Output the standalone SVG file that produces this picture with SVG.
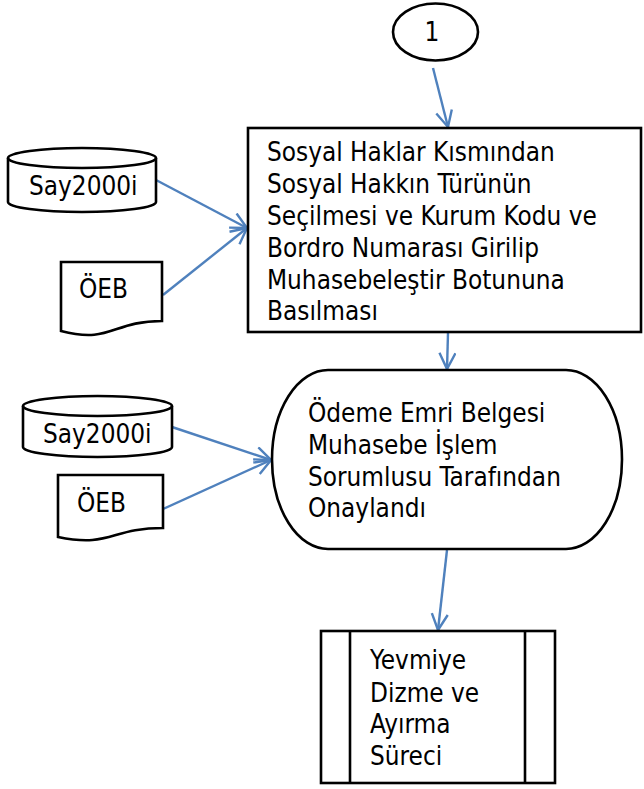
<svg xmlns="http://www.w3.org/2000/svg" width="644" height="789" viewBox="0 0 644 789">
<style>
.shape{fill:#fff;stroke:#000;stroke-width:2.6}
.line{fill:none;stroke:#000;stroke-width:2.6}
.t{font-family:"DejaVu Sans Condensed","DejaVu Sans",sans-serif;font-stretch:condensed;font-size:25.9px;fill:#000}
.conn{fill:none;stroke:#4F81BD;stroke-width:2.4}
</style>
<defs>
<marker id="arr" markerUnits="userSpaceOnUse" markerWidth="22" markerHeight="22" refX="17" refY="9" orient="auto">
<path d="M1,1 L17,9 L1,17" fill="none" stroke="#4F81BD" stroke-width="2.4"/>
</marker>
</defs>
<rect width="644" height="789" fill="#fff"/>
<g id="connectors">
<line class="conn" x1="433" y1="68" x2="448" y2="127" marker-end="url(#arr)"/>
<line class="conn" x1="156" y1="180" x2="247" y2="228" marker-end="url(#arr)"/>
<line class="conn" x1="163" y1="295" x2="247" y2="228" marker-end="url(#arr)"/>
<line class="conn" x1="448" y1="333" x2="447" y2="369" marker-end="url(#arr)"/>
<line class="conn" x1="172" y1="427" x2="271" y2="460" marker-end="url(#arr)"/>
<line class="conn" x1="163" y1="509" x2="271" y2="460" marker-end="url(#arr)"/>
<line class="conn" x1="447" y1="550" x2="438" y2="630" marker-end="url(#arr)"/>
</g>
<g id="node-connector1">
<ellipse class="shape" cx="435.5" cy="32" rx="42.5" ry="28.5"/>
<text class="t" x="432" y="40.5" text-anchor="middle">1</text>
</g>
<g id="node-step1">
<rect class="shape" x="248" y="128" width="393" height="204"/>
<text class="t" x="267"><tspan x="267" y="161">Sosyal Haklar Kısmından</tspan><tspan x="267" y="193">Sosyal Hakkın Türünün</tspan><tspan x="267" y="225">Seçilmesi ve Kurum Kodu ve</tspan><tspan x="267" y="257">Bordro Numarası Girilip</tspan><tspan x="267" y="289">Muhasebeleştir Botununa</tspan><tspan x="267" y="320">Basılması</tspan></text>
</g>
<g id="node-say2000i-1">
<path class="shape" d="M8,158 V202 A74,10 0 0 0 156,202 V158 A74,10 0 0 0 8,158 Z"/>
<path class="line" d="M8,158 A74,10 0 0 0 156,158"/>
<text class="t" x="29" y="195">Say2000i</text>
</g>
<g id="node-oeb-1">
<path class="shape" d="M61,262 H162 V321 C111.5,321 111.5,344 61,331 Z"/>
<text class="t" x="79" y="298">ÖEB</text>
</g>
<g id="node-step2">
<rect class="shape" x="272" y="370" width="350" height="179" rx="56" ry="89.5"/>
<text class="t"><tspan x="308" y="422">Ödeme Emri Belgesi</tspan><tspan x="308" y="454">Muhasebe İşlem</tspan><tspan x="308" y="486">Sorumlusu Tarafından</tspan><tspan x="308" y="517">Onaylandı</tspan></text>
</g>
<g id="node-say2000i-2">
<path class="shape" d="M23,406 V447 A74.5,10 0 0 0 172,447 V406 A74.5,10 0 0 0 23,406 Z"/>
<path class="line" d="M23,406 A74.5,10 0 0 0 172,406"/>
<text class="t" x="43" y="443">Say2000i</text>
</g>
<g id="node-oeb-2">
<path class="shape" d="M58,475 H163 V528 C110.5,528 110.5,548 58,537 Z"/>
<text class="t" x="77" y="512">ÖEB</text>
</g>
<g id="node-step3">
<rect class="shape" x="321" y="631" width="234" height="152"/>
<line class="line" x1="350" y1="631" x2="350" y2="783"/>
<line class="line" x1="525" y1="631" x2="525" y2="783"/>
<text class="t"><tspan x="370" y="669">Yevmiye</tspan><tspan x="370" y="702">Dizme ve</tspan><tspan x="370" y="733">Ayırma</tspan><tspan x="370" y="765">Süreci</tspan></text>
</g>
</svg>
